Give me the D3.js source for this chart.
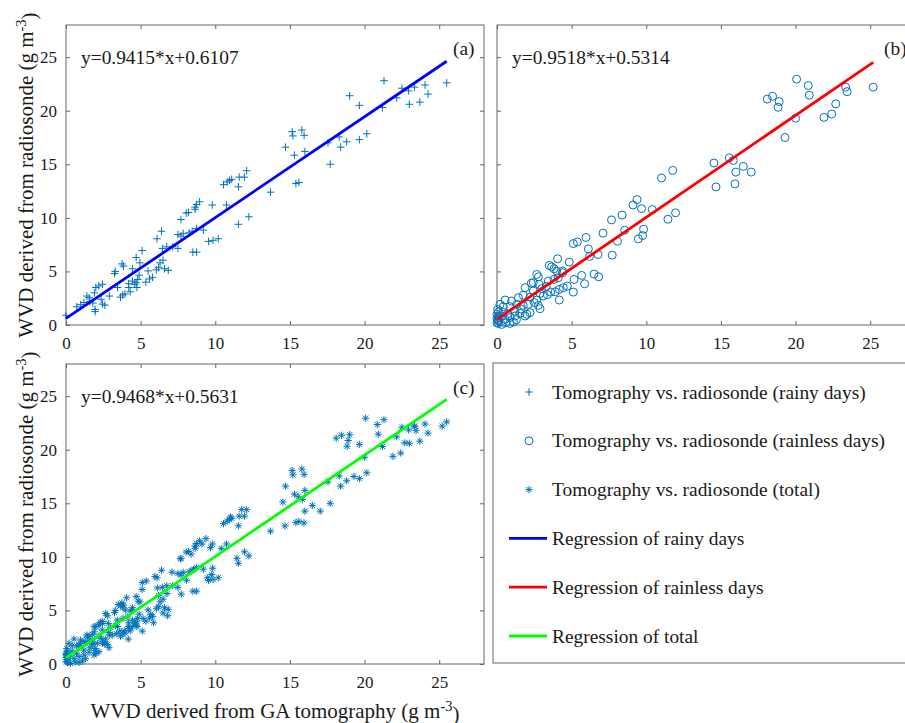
<!DOCTYPE html>
<html>
<head>
<meta charset="utf-8">
<script src="https://cdn.jsdelivr.net/npm/d3@7"></script>
<style>
  html, body { margin: 0; padding: 0; background: #fff; }
  svg { display: block; font-family: "Liberation Serif", "Times New Roman", serif; }
</style>
</head>
<body>
<svg id="fig" width="905" height="723"></svg>
<script>
// ---- data ---------------------------------------------------------------
const tickValues = [0, 5, 10, 15, 20, 25];
const axisDomain = [0, 28];

// [tomography WVD, radiosonde WVD] in g m^-3
const rainyDays = [
  [0.0,0.9],[0.72,1.7],[0.98,1.9],[1.2,2.1],[1.4,2.7],[1.55,2.55],[1.6,2.2],[1.8,2.05],
  [1.95,1.45],[1.95,1.25],[1.9,3.0],[2.0,3.5],[2.2,3.65],[2.45,3.8],[2.45,1.95],[2.6,1.85],
  [2.35,2.4],[2.9,2.7],[3.25,4.8],[3.3,5.0],[3.45,3.5],[3.65,2.6],[3.8,2.8],[3.95,2.9],
  [3.75,5.7],[3.85,5.5],[4.2,3.85],[4.2,3.5],[4.3,3.1],[4.45,5.25],[4.7,6.3],[4.45,4.1],
  [4.6,3.8],[4.7,3.95],[4.75,3.5],[4.8,4.25],[4.95,5.8],[4.9,4.65],[5.1,6.95],[5.5,5.05],
  [5.35,4.0],[5.6,4.3],[5.8,4.45],[6.05,5.15],[6.2,5.35],[6.1,8.05],[6.4,8.75],[6.3,5.8],
  [6.5,6.05],[6.45,7.15],[6.75,7.3],[7.15,7.3],[7.5,7.15],[6.6,5.25],[6.85,5.1],[7.5,8.45],
  [7.7,8.3],[7.85,8.55],[7.7,9.85],[8.05,10.45],[8.2,10.5],[8.65,11.0],[8.75,11.25],[8.95,11.5],
  [8.5,6.8],[8.75,6.8],[8.65,10.8],[8.25,8.6],[8.45,8.75],[8.75,9.0],[9.2,8.85],[9.55,7.8],
  [9.85,7.9],[10.2,8.05],[9.8,11.2],[10.75,11.2],[10.55,13.1],[10.8,13.35],[11.1,13.6],[10.95,13.5],
  [11.6,13.8],[11.95,13.8],[12.1,14.4],[11.55,12.9],[11.55,9.4],[12.25,10.1],[13.7,12.4],[14.7,16.6],
  [15.15,18.05],[15.2,17.65],[15.8,18.2],[15.95,17.7],[15.3,15.85],[16.0,16.2],[15.4,13.2],[15.6,13.3],
  [17.7,15.0],[17.55,17.0],[18.3,17.55],[18.4,16.6],[18.8,17.1],[19.65,17.3],[20.15,17.85],[19.0,21.4],
  [19.65,20.5],[21.2,20.3],[21.3,22.8],[22.15,21.2],[22.5,22.1],[22.95,21.85],[23.35,22.2],[24.05,22.4],
  [24.25,21.55],[23.0,20.6],[23.7,20.8],[25.5,22.6]
];

const rainlessDays = [
  [0.0,0.6],[0.1,0.84],[0.1,0.46],[0.1,0.15],[0.3,0.05],[0.09,1.21],[0.31,0.84],[0.54,0.53],
  [0.87,0.69],[0.87,0.15],[1.1,0.28],[1.21,0.84],[1.54,1.09],[1.88,0.84],[2.21,1.15],[0.2,1.93],
  [0.42,1.71],[0.87,1.71],[1.32,1.93],[1.76,1.83],[2.1,1.93],[0.54,2.33],[0.98,2.23],[1.43,2.55],
  [1.76,2.77],[1.88,3.48],[2.43,3.17],[2.88,2.95],[3.1,2.7],[3.37,2.83],[3.6,3.07],[2.77,1.83],
  [2.88,1.52],[2.66,2.33],[2.43,3.95],[2.3,3.9],[2.83,3.79],[2.66,4.72],[2.77,4.5],[3.44,4.1],
  [3.82,4.25],[4.1,4.41],[4.4,4.88],[3.5,5.56],[3.66,5.43],[3.82,5.25],[4.0,5.03],[4.4,5.03],
  [4.06,6.18],[4.84,5.87],[4.17,3.32],[4.44,3.48],[4.71,3.63],[4.17,2.33],[5.11,3.07],[5.16,4.25],
  [5.67,4.63],[5.87,3.85],[6.5,4.75],[6.81,4.5],[5.11,7.6],[5.38,7.75],[5.96,8.17],[6.12,7.1],
  [6.2,6.4],[6.77,6.58],[7.72,6.52],[7.1,8.57],[8.07,7.82],[8.55,8.85],[9.47,8.04],[9.82,8.94],
  [9.76,8.35],[7.67,9.81],[8.38,10.26],[9.11,11.2],[9.38,11.7],[9.68,10.86],[10.4,10.77],[11.02,13.72],
  [11.77,14.43],[11.45,9.87],[11.96,10.47],[14.53,15.12],[15.56,15.6],[15.83,15.36],[16.5,14.8],[16.0,14.27],
  [17.03,14.27],[14.67,12.89],[15.94,13.17],[18.1,21.08],[18.46,21.35],[18.9,20.86],[18.83,20.32],[19.29,17.5],
  [20.0,19.3],[20.07,22.94],[20.85,22.35],[20.92,21.45],[21.9,19.38],[22.42,19.69],[22.69,20.64],[23.35,22.2],
  [23.45,21.78],[25.2,22.2],
  [0.0,0.2],[0.05,0.4],[0.0,1.0],[0.15,0.7],[0.6,0.2],[0.7,1.0],[0.4,1.2],[1.3,0.5],
  [1.6,1.5],[0.05,1.45],[3.3,3.6],[3.9,3.1],[2.2,2.6],[1.2,1.3],[3.0,3.4],[2.5,2.1],[2.0,1.0]
];

const totalDays = rainyDays.concat(rainlessDays);

// regression coefficients [slope, intercept]
const fitRainy = [0.9415, 0.6107];
const fitRainless = [0.9518, 0.5314];
const fitTotal = [0.9468, 0.5631];

const legendLabels = [
  "Tomography vs. radiosonde (rainy days)",
  "Tomography vs. radiosonde (rainless days)",
  "Tomography vs. radiosonde (total)",
  "Regression of rainy days",
  "Regression of rainless days",
  "Regression of total"
];

const markerColor = "#0072BD";
const lineColors = ["#0000FF", "#FF0000", "#00FF00"];
const axisColor = "#666";
const textColor = "#1a1a1a";

// ---- marker shapes -------------------------------------------------------
function plusPath(r) { return `M${-r},0H${r}M0,${-r}V${r}`; }
function starPath(r) {
  const d = r * 0.72;
  return `M${-r},0H${r}M0,${-r}V${r}M${-d},${-d}L${d},${d}M${-d},${d}L${d},${-d}`;
}
function drawMarker(sel, kind) {
  if (kind === "circle") {
    sel.append("circle").attr("r", 4).attr("fill", "none")
      .attr("stroke", markerColor).attr("stroke-width", 1);
  } else {
    sel.append("path").attr("d", kind === "plus" ? plusPath(3.8) : starPath(3.6))
      .attr("fill", "none").attr("stroke", markerColor).attr("stroke-width", 1);
  }
}

const svg = d3.select("#fig");
svg.append("rect").attr("width", 905).attr("height", 723).attr("fill", "#fff");

// ---- panels --------------------------------------------------------------
const panels = [
  { left: 66,  top: 25,  data: rainyDays,    fit: fitRainy,    color: lineColors[0], marker: "plus",   tag: "(a)", yLabels: true },
  { left: 497, top: 25,  data: rainlessDays, fit: fitRainless, color: lineColors[1], marker: "circle", tag: "(b)", yLabels: false },
  { left: 66,  top: 364, data: totalDays,    fit: fitTotal,    color: lineColors[2], marker: "star",   tag: "(c)", yLabels: true }
];
const pw = 418, ph = 300;

function styleAxis(g) {
  g.select(".domain").remove();
  g.selectAll(".tick line").attr("stroke", axisColor).attr("stroke-width", 1);
  g.selectAll(".tick text").attr("fill", textColor).attr("font-size", 17)
    .attr("font-family", '"Liberation Serif", "Times New Roman", serif');
}

panels.forEach(p => {
  const x = d3.scaleLinear().domain(axisDomain).range([0, pw]);
  const y = d3.scaleLinear().domain(axisDomain).range([ph, 0]);
  const g = svg.append("g").attr("transform", `translate(${p.left},${p.top})`);

  // inward ticks on all four sides
  g.append("g").attr("transform", `translate(0,${ph})`)
    .call(d3.axisBottom(x).tickValues(tickValues).tickSizeInner(-4).tickSizeOuter(0).tickPadding(12))
    .call(styleAxis);
  g.append("g")
    .call(d3.axisTop(x).tickValues(tickValues).tickSizeInner(-4).tickSizeOuter(0).tickFormat(""))
    .call(styleAxis);
  g.append("g")
    .call(d3.axisLeft(y).tickValues(tickValues).tickSizeInner(-4).tickSizeOuter(0).tickPadding(9)
      .tickFormat(p.yLabels ? d3.format("d") : ""))
    .call(styleAxis);
  g.append("g").attr("transform", `translate(${pw},0)`)
    .call(d3.axisRight(y).tickValues(tickValues).tickSizeInner(-4).tickSizeOuter(0).tickFormat(""))
    .call(styleAxis);

  g.append("rect").attr("width", pw).attr("height", ph)
    .attr("fill", "none").attr("stroke", axisColor).attr("stroke-width", 1);

  // scatter
  g.append("g").selectAll("g").data(p.data).join("g")
    .attr("transform", d => `translate(${x(d[0])},${y(d[1])})`)
    .each(function () { drawMarker(d3.select(this), p.marker); });

  // regression line across the data range
  const xr = d3.extent(p.data, d => d[0]);
  g.append("line")
    .attr("x1", x(xr[0])).attr("y1", y(p.fit[0] * xr[0] + p.fit[1]))
    .attr("x2", x(xr[1])).attr("y2", y(p.fit[0] * xr[1] + p.fit[1]))
    .attr("stroke", p.color).attr("stroke-width", 2.8).attr("stroke-linecap", "butt");

  // equation and panel tag
  g.append("text").attr("x", 15).attr("y", 39)
    .attr("font-size", 19.4).attr("fill", textColor)
    .text(`y=${p.fit[0].toFixed(4)}*x+${p.fit[1].toFixed(4)}`);
  g.append("text").attr("x", 387).attr("y", 30)
    .attr("font-size", 19.4).attr("fill", textColor).text(p.tag);
});

// ---- axis titles ---------------------------------------------------------
function unitTitle(t, label) {
  t.attr("font-size", 21).attr("fill", textColor).attr("text-anchor", "middle");
  t.append("tspan").text(label + " (g m");
  t.append("tspan").attr("dy", "-0.5em").attr("font-size", 14.5).text("-3");
  t.append("tspan").attr("dy", "0.5em").text(")");
}
[panels[0], panels[2]].forEach(p => {
  const cy = p.top + ph / 2;
  svg.append("text").attr("transform", `translate(33,${cy}) rotate(-90)`)
    .call(unitTitle, "WVD derived from radiosonde");
});
svg.append("text").attr("transform", `translate(${66 + pw / 2},718)`)
  .call(unitTitle, "WVD derived from GA tomography");

// ---- legend --------------------------------------------------------------
const lg = svg.append("g");
lg.append("rect").attr("x", 493).attr("y", 363).attr("width", 430).attr("height", 300)
  .attr("fill", "#fff").attr("stroke", axisColor).attr("stroke-width", 1);
const rowY = d3.scaleLinear().domain([0, 5]).range([392, 636]);
const legendKinds = ["plus", "circle", "star"];
legendLabels.forEach((label, i) => {
  const cy = rowY(i);
  if (i < 3) {
    lg.append("g").attr("transform", `translate(529,${cy})`)
      .call(s => drawMarker(s, legendKinds[i]));
  } else {
    lg.append("line").attr("x1", 509).attr("x2", 547).attr("y1", cy).attr("y2", cy)
      .attr("stroke", lineColors[i - 3]).attr("stroke-width", 2.8);
  }
  lg.append("text").attr("x", 552).attr("y", cy + 6.5)
    .attr("font-size", 19.4).attr("fill", textColor).text(label);
});
</script>
</body>
</html>
